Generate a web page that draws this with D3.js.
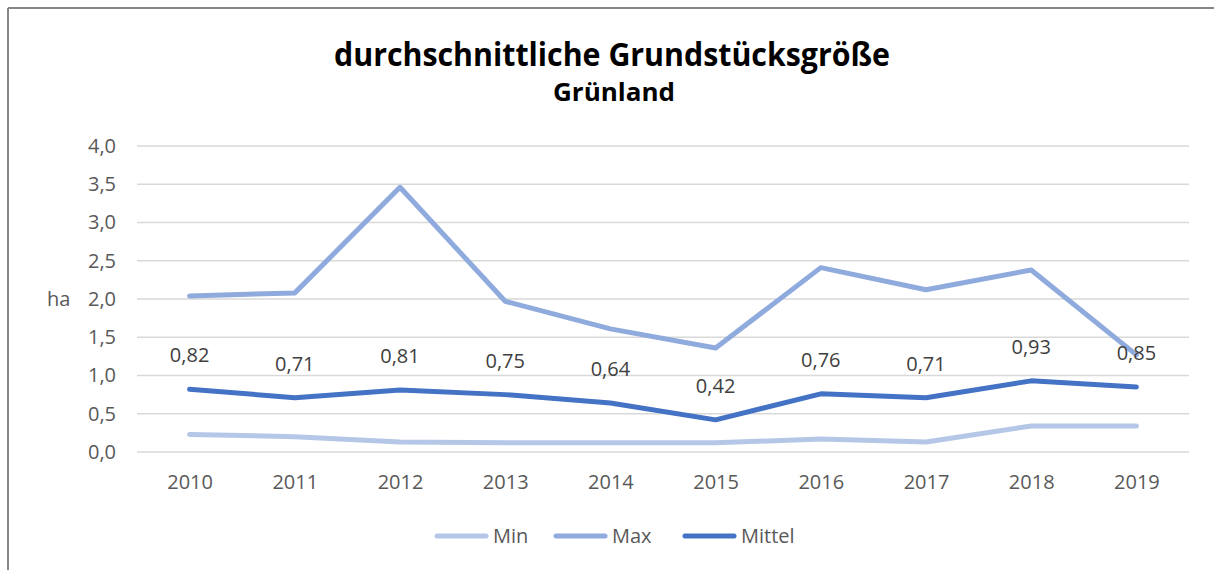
<!DOCTYPE html>
<html><head><meta charset="utf-8">
<script src="https://cdn.jsdelivr.net/npm/d3@7"></script>
<style>body{margin:0;background:#fff}svg{display:block}</style>
</head><body><svg id="c" width="1214" height="570"></svg>
<script>
const years = ["2010","2011","2012","2013","2014","2015","2016","2017","2018","2019"];
const minVals = [0.23,0.20,0.13,0.12,0.12,0.12,0.17,0.13,0.34,0.34];
const maxVals = [2.04,2.08,3.46,1.97,1.61,1.36,2.41,2.12,2.38,1.27];
const mittelVals = [0.82,0.71,0.81,0.75,0.64,0.42,0.76,0.71,0.93,0.85];
const yTicks = [0,0.5,1,1.5,2,2.5,3,3.5,4];
const seriesNames = ["Min","Max","Mittel"];
const colors = ["#b4c7e7","#8faadc","#4472c4"];

const svg = d3.select("#c");
const font = "'Open Sans', 'Noto Sans', sans-serif";
const tfont = "'Open Sans', 'Liberation Sans', sans-serif";
// frame
svg.append("line").attr("x1",8).attr("x2",1214).attr("y1",8).attr("y2",8).attr("stroke","#878787").attr("stroke-width",2);
svg.append("line").attr("x1",8).attr("x2",8).attr("y1",8).attr("y2",570).attr("stroke","#878787").attr("stroke-width",2);

// title
svg.append("text").attr("x",612).attr("y",66).attr("text-anchor","middle")
  .attr("font-family",tfont).attr("font-weight","bold").attr("font-size",32)
  .attr("textLength",556).attr("lengthAdjust","spacingAndGlyphs").attr("fill","#000")
  .text("durchschnittliche Grundstücksgröße");
svg.append("text").attr("x",614).attr("y",101).attr("text-anchor","middle")
  .attr("font-family",tfont).attr("font-weight","bold").attr("font-size",25)
  .attr("textLength",122).attr("lengthAdjust","spacingAndGlyphs").attr("fill","#000")
  .text("Grünland");

const x = d3.scalePoint().domain(years).range([137,1189]).padding(0.5);
const y = d3.scaleLinear().domain([0,4]).range([452,146]);
const fmt1 = d => d.toFixed(1).replace(".",",");
const fmt2 = d => d.toFixed(2).replace(".",",");

// grid
svg.append("g").selectAll("line").data(yTicks).join("line")
  .attr("x1",137).attr("x2",1189).attr("y1",d=>y(d)).attr("y2",d=>y(d))
  .attr("stroke","#d9d9d9").attr("stroke-width",1.5);

// y axis labels
const yAxis = svg.append("g").attr("transform","translate(137,0)")
  .call(d3.axisLeft(y).tickValues(yTicks).tickFormat(fmt1).tickSize(0).tickPadding(21));
yAxis.select(".domain").remove();
yAxis.selectAll("text").attr("font-family",font).attr("font-size",20).attr("fill","#595959");

svg.append("text").attr("x",47).attr("y",y(2)+7).attr("font-family",font).attr("font-size",20).attr("fill","#595959").text("ha");

// x axis labels
const xAxis = svg.append("g").attr("transform","translate(0,452)")
  .call(d3.axisBottom(x).tickSize(0).tickPadding(23));
xAxis.select(".domain").remove();
xAxis.selectAll("text").attr("font-family",font).attr("font-size",20).attr("fill","#595959");

const line = d3.line().x((d,i)=>x(years[i])).y(d=>y(d));
[minVals,maxVals,mittelVals].forEach((vals,k)=>{
  svg.append("path").datum(vals).attr("d",line).attr("fill","none")
    .attr("stroke",colors[k]).attr("stroke-width",5).attr("stroke-linecap","round").attr("stroke-linejoin","round");
});

// data labels
svg.append("g").selectAll("text").data(mittelVals).join("text")
  .attr("x",(d,i)=>x(years[i])).attr("y",d=>y(d)-27).attr("text-anchor","middle")
  .attr("font-family",font).attr("font-size",20).attr("fill","#404040").text(fmt2);

// legend
const legX = [434,553,682];
seriesNames.forEach((n,k)=>{
  svg.append("line").attr("x1",legX[k]+3).attr("x2",legX[k]+52).attr("y1",536).attr("y2",536)
    .attr("stroke",colors[k]).attr("stroke-width",5).attr("stroke-linecap","round");
  svg.append("text").attr("x",legX[k]+59).attr("y",543).attr("font-family",font).attr("font-size",20)
    .attr("fill","#595959").text(n);
});
</script></body></html>
